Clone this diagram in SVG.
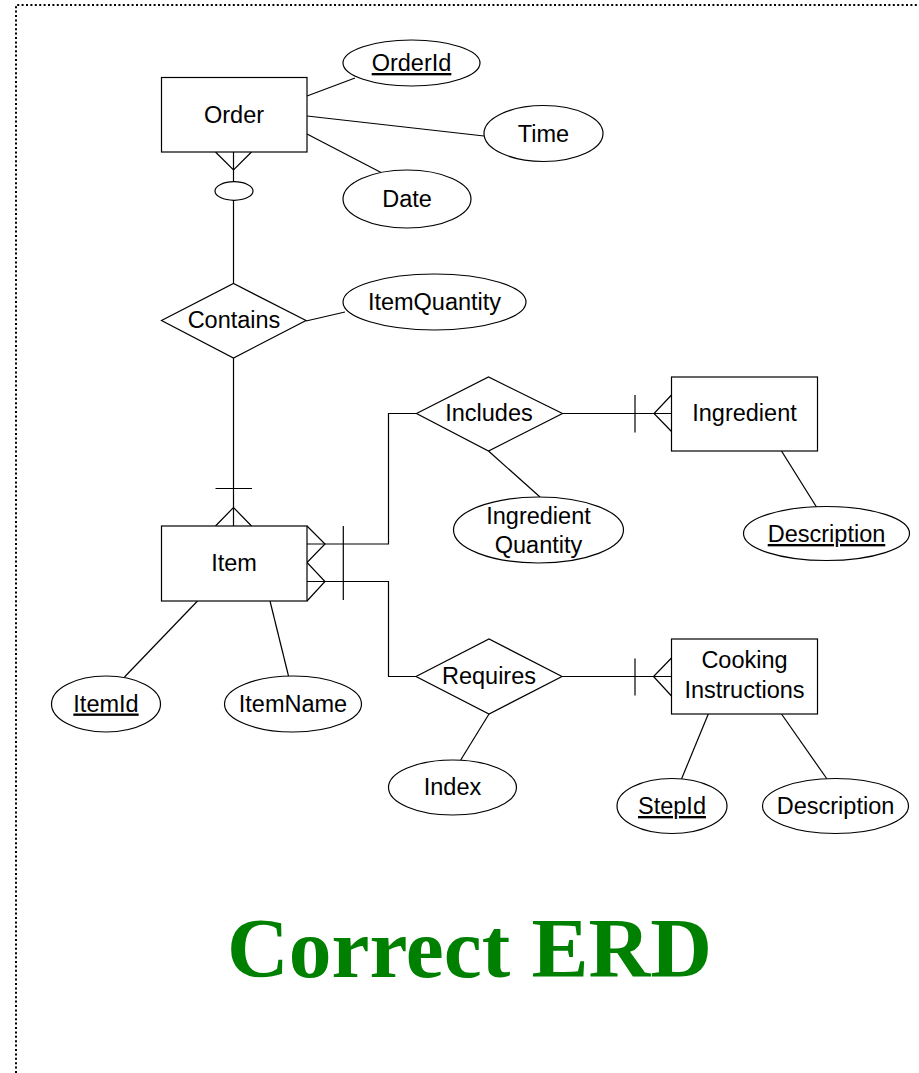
<svg xmlns="http://www.w3.org/2000/svg" width="919" height="1073" viewBox="0 0 919 1073">
<style>
.s{fill:#fff;stroke:#000;stroke-width:1.2}
.l{fill:none;stroke:#000;stroke-width:1.2}
.t{font-family:"Liberation Sans",Arial,sans-serif;font-size:23.5px;fill:#000;text-anchor:middle}
.u{text-decoration:underline}
.title{font-family:"Liberation Serif","Times New Roman",serif;font-weight:bold;font-size:85.5px;fill:#008000;text-anchor:middle}
</style>
<rect width="919" height="1073" fill="#fff"/>
<path d="M16,1073 V5 H919" fill="none" stroke="#000" stroke-width="2" stroke-dasharray="2 2.4"/>
<g id="connectors" class="l">
<line x1="307" y1="96" x2="355" y2="78"/>
<line x1="307" y1="116" x2="484" y2="136"/>
<line x1="307" y1="134" x2="382" y2="173"/>
<line x1="233.5" y1="152" x2="233.5" y2="182"/>
<polyline points="215.5,152 233.5,170 251.5,152"/>
<ellipse cx="234" cy="191" rx="19" ry="9.3"/>
<line x1="233.5" y1="200" x2="233.5" y2="283"/>
<line x1="306" y1="321" x2="345" y2="312"/>
<line x1="233.5" y1="358" x2="233.5" y2="526"/>
<line x1="215.5" y1="488.5" x2="252" y2="488.5"/>
<polyline points="215.5,526 233.5,507.5 251.5,526"/>
<polyline points="307,526 325,544 307,562.5 325,581.5 307,601"/>
<polyline points="307,544 388.5,544 388.5,413.5 416.5,413.5"/>
<polyline points="307,581.5 388.5,581.5 388.5,676.5 416,676.5"/>
<line x1="343.3" y1="526" x2="343.3" y2="600"/>
<line x1="562.5" y1="413.5" x2="671.5" y2="413.5"/>
<line x1="635" y1="395" x2="635" y2="432.5"/>
<polyline points="671.5,395 654,413.5 671.5,431.5"/>
<line x1="781.5" y1="451" x2="816.5" y2="507"/>
<line x1="488.5" y1="451" x2="540" y2="497"/>
<line x1="562" y1="676.5" x2="671.5" y2="676.5"/>
<line x1="635" y1="658.5" x2="635" y2="695.5"/>
<polyline points="671.5,658 653.5,676.5 671.5,696"/>
<line x1="489" y1="714" x2="460.7" y2="760"/>
<line x1="708.3" y1="714" x2="681.5" y2="779"/>
<line x1="781.5" y1="714" x2="827" y2="779"/>
<line x1="197.5" y1="601" x2="124.5" y2="677"/>
<line x1="270" y1="601" x2="288.5" y2="676"/>
</g>
<g id="order"><rect class="s" x="161.5" y="77.5" width="145.5" height="74.5"/><text class="t" x="234" y="123">Order</text></g>
<g id="orderid"><ellipse class="s" cx="411.5" cy="63" rx="68.5" ry="23"/><text class="t u" x="411.5" y="71">OrderId</text></g>
<g id="time"><ellipse class="s" cx="543.5" cy="133.5" rx="59.5" ry="28"/><text class="t" x="543.5" y="141.5">Time</text></g>
<g id="date"><ellipse class="s" cx="407" cy="199" rx="64" ry="29"/><text class="t" x="407" y="207">Date</text></g>
<g id="contains"><polygon class="s" points="161.5,320.5 233.5,283.5 306,320.5 233.5,358"/><text class="t" x="234" y="328">Contains</text></g>
<g id="itemquantity"><ellipse class="s" cx="434.5" cy="302" rx="91.5" ry="28"/><text class="t" x="434.5" y="309.5">ItemQuantity</text></g>
<g id="item"><rect class="s" x="161.5" y="526" width="145.5" height="75"/><text class="t" x="234" y="571">Item</text></g>
<g id="includes"><polygon class="s" points="416.5,413.5 488.5,377 562.5,413.5 488.5,451"/><text class="t" x="489" y="421">Includes</text></g>
<g id="ingredient"><rect class="s" x="671.5" y="377" width="146" height="74"/><text class="t" x="744.5" y="421">Ingredient</text></g>
<g id="ingredientquantity"><ellipse class="s" cx="538.5" cy="530" rx="85" ry="33"/><text class="t" x="538.5" y="524">Ingredient</text><text class="t" x="538.5" y="553">Quantity</text></g>
<g id="description1"><ellipse class="s" cx="826.5" cy="533.5" rx="83" ry="27"/><text class="t u" x="826.5" y="542">Description</text></g>
<g id="requires"><polygon class="s" points="416,676.5 489,639 562,676.5 489,714"/><text class="t" x="489" y="684">Requires</text></g>
<g id="cooking"><rect class="s" x="671.5" y="639" width="146" height="75"/><text class="t" x="744.5" y="668">Cooking</text><text class="t" x="744.5" y="698">Instructions</text></g>
<g id="itemid"><ellipse class="s" cx="106" cy="704" rx="54.5" ry="28"/><text class="t u" x="106" y="711.5">ItemId</text></g>
<g id="itemname"><ellipse class="s" cx="293" cy="704" rx="68.5" ry="28"/><text class="t" x="293" y="711.5">ItemName</text></g>
<g id="index"><ellipse class="s" cx="452.5" cy="787.5" rx="64" ry="27.5"/><text class="t" x="452.5" y="795">Index</text></g>
<g id="stepid"><ellipse class="s" cx="672" cy="806" rx="55" ry="27.5"/><text class="t u" x="672" y="814">StepId</text></g>
<g id="description2"><ellipse class="s" cx="835.5" cy="806" rx="73" ry="27.5"/><text class="t" x="835.5" y="814">Description</text></g>
<text class="title" x="469.5" y="977">Correct ERD</text>
</svg>
